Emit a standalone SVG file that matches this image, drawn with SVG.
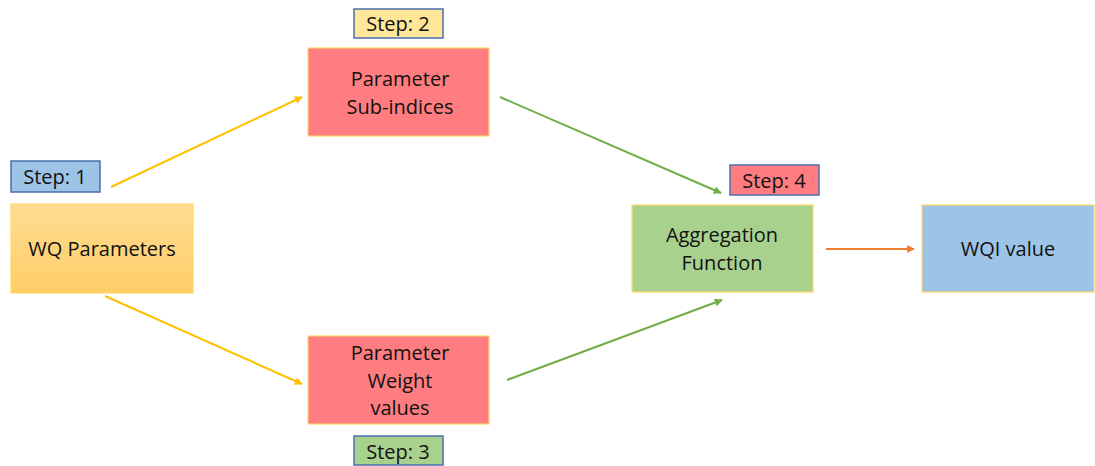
<svg xmlns="http://www.w3.org/2000/svg" width="1095" height="466" viewBox="0 0 1095 466">
  <defs>
    <linearGradient id="gradOrange" x1="0" y1="0" x2="0" y2="1">
      <stop offset="0" stop-color="#FFDC92"/>
      <stop offset="1" stop-color="#FFCE66"/>
    </linearGradient>
    <marker id="arrYellow" viewBox="0 0 10 10" refX="9" refY="5" markerWidth="8" markerHeight="8" markerUnits="userSpaceOnUse" orient="auto">
      <path d="M0,0 L10,5 L0,10 z" fill="#FFC000"/>
    </marker>
    <marker id="arrGreen" viewBox="0 0 10 10" refX="9" refY="5" markerWidth="8" markerHeight="8" markerUnits="userSpaceOnUse" orient="auto">
      <path d="M0,0 L10,5 L0,10 z" fill="#70AD47"/>
    </marker>
    <marker id="arrOrange" viewBox="0 0 10 10" refX="9" refY="5" markerWidth="8" markerHeight="8" markerUnits="userSpaceOnUse" orient="auto">
      <path d="M0,0 L10,5 L0,10 z" fill="#ED7D31"/>
    </marker>
  </defs>
  <style>
    text { font-family: "Open Sans", "Liberation Sans", sans-serif; font-size: 20px; fill: #111; text-anchor: middle; }
    .box { stroke: #FFD966; stroke-width: 1.2; }
    .step { stroke: #4A6FB0; stroke-width: 1.5; }
    .conn { fill: none; stroke-width: 2; }
  </style>
  <rect width="1095" height="466" fill="#FFFFFF"/>

  <!-- connectors -->
  <g id="connectors">
    <line class="conn" x1="111" y1="187" x2="302" y2="97" stroke="#FFC000" marker-end="url(#arrYellow)"/>
    <line class="conn" x1="105" y1="296" x2="302" y2="384" stroke="#FFC000" marker-end="url(#arrYellow)"/>
    <line class="conn" x1="500" y1="97" x2="721" y2="193" stroke="#70AD47" marker-end="url(#arrGreen)"/>
    <line class="conn" x1="507" y1="380" x2="722" y2="300" stroke="#70AD47" marker-end="url(#arrGreen)"/>
    <line class="conn" x1="826" y1="249" x2="914" y2="249" stroke="#ED7D31" marker-end="url(#arrOrange)"/>
  </g>

  <!-- nodes -->
  <g id="wq-parameters">
    <rect class="box" x="11" y="204" width="182" height="89" fill="url(#gradOrange)"/>
    <text x="102" y="256">WQ Parameters</text>
  </g>
  <g id="sub-indices">
    <rect class="box" x="308" y="48" width="181" height="88" fill="#FF7C80"/>
    <text x="400" y="86">Parameter</text>
    <text x="400" y="114">Sub-indices</text>
  </g>
  <g id="weight-values">
    <rect class="box" x="308" y="336" width="181" height="88" fill="#FF7C80"/>
    <text x="400" y="360">Parameter</text>
    <text x="400" y="388">Weight</text>
    <text x="400" y="415">values</text>
  </g>
  <g id="aggregation">
    <rect class="box" x="632" y="205" width="181" height="87" fill="#A9D18E"/>
    <text x="722" y="242">Aggregation</text>
    <text x="722" y="270">Function</text>
  </g>
  <g id="wqi-value">
    <rect class="box" x="922" y="205" width="172" height="87" fill="#9DC3E6"/>
    <text x="1008" y="256">WQI value</text>
  </g>

  <!-- step labels -->
  <g id="step1">
    <rect class="step" x="11" y="161" width="89" height="31" fill="#9DC3E6"/>
    <text x="55" y="184">Step: 1</text>
  </g>
  <g id="step2">
    <rect class="step" x="354" y="9" width="89" height="29" fill="#FFE699"/>
    <text x="398" y="31">Step: 2</text>
  </g>
  <g id="step3">
    <rect class="step" x="354" y="436" width="89" height="29" fill="#A9D18E"/>
    <text x="398" y="459">Step: 3</text>
  </g>
  <g id="step4">
    <rect class="step" x="730" y="165" width="89" height="30" fill="#FF7C80"/>
    <text x="774" y="188">Step: 4</text>
  </g>
</svg>
